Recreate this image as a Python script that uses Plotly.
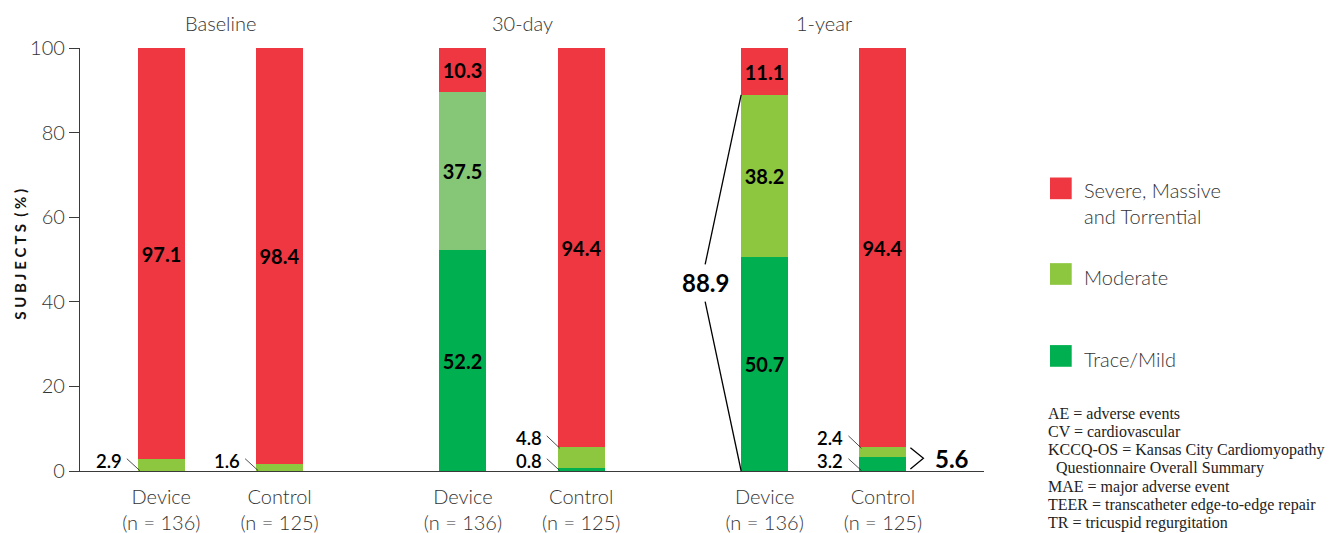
import plotly.graph_objects as go

# ---------------- data ----------------
groups = ["Baseline", "30-day", "1-year"]
arms = ["Device", "Control"]
arm_sizes = [136, 125]
trace_mild = [0.0, 0.0, 52.2, 0.8, 50.7, 3.2]
moderate = [2.9, 1.6, 37.5, 4.8, 38.2, 2.4]
severe = [97.1, 98.4, 10.3, 94.4, 11.1, 94.4]
legend_labels = ["Severe, Massive<br>and Torrential", "Moderate", "Trace/Mild"]
y_ticks = [0, 20, 40, 60, 80, 100]
y_title = "S U B J E C T S  ( % )"
abbreviations = [
    "AE = adverse events",
    "CV = cardiovascular",
    "KCCQ-OS = Kansas City Cardiomyopathy",
    "  Questionnaire Overall Summary",
    "MAE = major adverse event",
    "TEER = transcatheter edge-to-edge repair",
    "TR = tricuspid regurgitation",
]

# ---------------- style / layout ----------------
FONT = "Lato"
RED = "#EE3740"
MOD = "#8DC63F"
MOD_LIGHT = "#86C777"
TRACE = "#00B050"
AXIS = "#3a3a3a"
TXT = "#333333"

GROUP_STEP = 2.55
BAR_W = 0.397
PX_X = 118.3   # px per x unit
PX_Y = 4.233   # px per y unit
L, R, T, B = 80, 984, 47.7, 471
W, H = R - L, B - T
X0 = -(161.3 - L) / PX_X
X1 = (R - 161.3) / PX_X


def paper_x(px):
    return (px - L) / W


def paper_y(py):
    return (B - py) / H


positions = [g * GROUP_STEP + a for g in range(len(groups)) for a in range(len(arms))]
tick_text = [f"{a}<br>(n = {n})" for _ in groups for a, n in zip(arms, arm_sizes)]
n_bars = len(positions)

mod_colors = [MOD] * n_bars
mod_colors[2] = MOD_LIGHT  # 30-day device highlighted with lighter green

fig = go.Figure()
series = [(trace_mild, [TRACE] * n_bars), (moderate, mod_colors), (severe, [RED] * n_bars)]
for vals, cols in series:
    fig.add_trace(go.Bar(
        x=positions, y=vals, width=BAR_W,
        marker=dict(color=cols, line=dict(width=0)),
        text=[f"{v:.1f}" if v >= 10 else "" for v in vals],
        textposition="inside", insidetextanchor="middle", textangle=0,
        constraintext="none",
        insidetextfont=dict(family=FONT, size=20, color="black", weight="bold"),
        showlegend=False,
    ))

shapes = []
annotations = []

# small-segment labels with leader lines
for i, p in enumerate(positions):
    left = p - BAR_W / 2
    k = 0
    for vals in (trace_mild, moderate, severe):
        v = vals[i]
        if 0 < v < 10:
            ly = 2.3 + k * 5.4
            annotations.append(dict(
                x=left - 15 / PX_X, y=ly, xref="x", yref="y", text=f"{v:.1f}",
                showarrow=False, xanchor="right", yanchor="middle", borderpad=0,
                font=dict(family=FONT, size=18.5, color="black", weight=600)))
            y_start = ly + 0.6
            y_end = max(y_start - 13 / PX_Y * 0.95, 0.1)
            shapes.append(dict(type="line", xref="x", yref="y",
                               x0=left - 11 / PX_X, y0=y_start,
                               x1=left + 2 / PX_X, y1=y_end,
                               line=dict(color="#222", width=0.8)))
            k += 1

# bracket: 1-year device improved (trace + moderate)
i_dev = 4
tot_dev = trace_mild[i_dev] + moderate[i_dev]
left = positions[i_dev] - BAR_W / 2
vx = left - 36 / PX_X
mid = tot_dev / 2
shapes.append(dict(type="line", xref="x", yref="y", x0=left, y0=tot_dev, x1=vx, y1=mid + 4.4,
                   line=dict(color="black", width=1.3)))
shapes.append(dict(type="line", xref="x", yref="y", x0=vx, y0=mid - 4.4, x1=left, y1=0,
                   line=dict(color="black", width=1.3)))
annotations.append(dict(x=vx, y=mid, xref="x", yref="y", text=f"{tot_dev:.1f}", showarrow=False,
                        xanchor="center", yanchor="middle",
                        font=dict(family=FONT, size=24, color="black", weight="bold")))

# ">" bracket: 1-year control improved
i_ctl = 5
tot_ctl = trace_mild[i_ctl] + moderate[i_ctl]
right = positions[i_ctl] + BAR_W / 2
c = tot_ctl / 2 + 0.2
hh = tot_ctl / 2 - 0.3
xa = right + 4 / PX_X
xb = right + 17 / PX_X
shapes.append(dict(type="path", xref="x", yref="y",
                   path=f"M {xa},{c + hh} L {xb},{c} L {xa},{c - hh}",
                   line=dict(color="black", width=1.3)))
annotations.append(dict(x=right + 27 / PX_X, y=c, xref="x", yref="y", text=f"{tot_ctl:.1f}",
                        showarrow=False, xanchor="left", yanchor="middle",
                        font=dict(family=FONT, size=24, color="black", weight="bold")))

# group titles
for g, name in enumerate(groups):
    gx = sum(positions[g * 2:(g + 1) * 2]) / 2
    annotations.append(dict(x=gx, y=paper_y(22.7), xref="x", yref="paper", text=name,
                            showarrow=False, xanchor="center", yanchor="middle",
                            font=dict(family=FONT, size=20, color=TXT, weight=300)))

# y-axis title
annotations.append(dict(x=paper_x(20.5), y=paper_y(254), xref="paper", yref="paper",
                        text=y_title, textangle=-90, showarrow=False,
                        xanchor="center", yanchor="middle",
                        font=dict(family=FONT, size=15, color="#111", weight="bold")))

# custom legend
legend_colors = [RED, MOD, TRACE]
sq_tops = [177.3, 263, 345]
text_centers = [202.7, 276.7, 359.3]
for col, top, tc, lab in zip(legend_colors, sq_tops, text_centers, legend_labels):
    shapes.append(dict(type="rect", xref="paper", yref="paper",
                       x0=paper_x(1050), x1=paper_x(1071.7), y0=paper_y(top + 21.7), y1=paper_y(top),
                       fillcolor=col, line=dict(width=0)))
    annotations.append(dict(x=paper_x(1082), y=paper_y(tc), xref="paper", yref="paper", text=lab,
                            showarrow=False, xanchor="left", yanchor="middle", align="left",
                            font=dict(family=FONT, size=20, color=TXT, weight=300)))

# abbreviations
for j, line in enumerate(abbreviations):
    indent = 8 if line.startswith("  ") else 0
    annotations.append(dict(x=paper_x(1047 + indent), y=paper_y(413 + j * 18.4), xref="paper", yref="paper",
                            text=line.strip(), showarrow=False, xanchor="left", yanchor="middle",
                            borderpad=0,
                            font=dict(family="Liberation Serif", size=16, color="#222")))

fig.update_layout(
    barmode="stack",
    width=1338, height=533,
    margin=dict(l=L, r=1338 - R, t=T, b=533 - B, pad=0, autoexpand=False),
    paper_bgcolor="white", plot_bgcolor="white",
    font=dict(family=FONT, color=TXT),
    bargap=0,
    shapes=shapes, annotations=annotations,
    xaxis=dict(range=[X0, X1], tickvals=positions, ticktext=tick_text, ticks="",
               ticklabelstandoff=8, automargin=False,
               showline=True, linecolor=AXIS, linewidth=1.3, showgrid=False, zeroline=False,
               tickfont=dict(family=FONT, size=20, color=TXT, weight=300)),
    yaxis=dict(range=[0, 100], tickvals=y_ticks, ticks="outside", ticklen=10, tickcolor=AXIS,
               tickwidth=1.3, showline=True, linecolor=AXIS, linewidth=1.3, showgrid=False,
               zeroline=False, automargin=False,
               tickfont=dict(family=FONT, size=20, color=TXT, weight=300)),
    showlegend=False,
)

fig.write_html("out.html", config={"displayModeBar": False},
               post_script="document.body.style.margin='0';document.body.style.overflow='hidden';")
